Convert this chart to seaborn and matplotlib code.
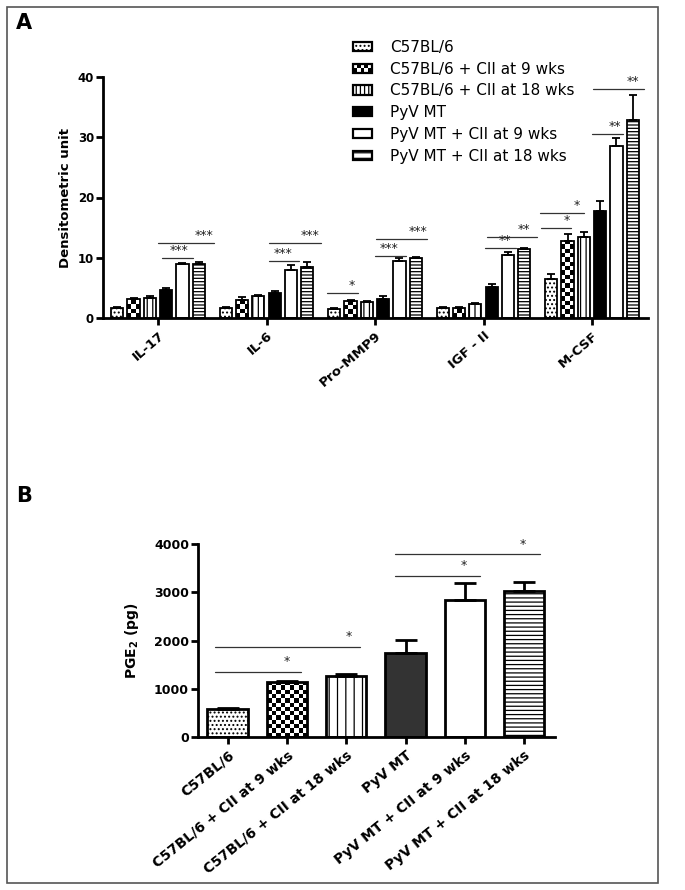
import numpy as np
import pandas as pd
import matplotlib
matplotlib.use("Agg")
import matplotlib.pyplot as plt
import seaborn as sns
from matplotlib.patches import Rectangle
from matplotlib.legend_handler import HandlerBase

# ---------------- data ----------------
groups = ["C57BL/6", "C57BL/6 + CII at 9 wks", "C57BL/6 + CII at 18 wks",
          "PyV MT", "PyV MT + CII at 9 wks", "PyV MT + CII at 18 wks"]
cytokines = ["IL-17", "IL-6", "Pro-MMP9", "IGF - II", "M-CSF"]

# values per group, ordered by cytokines
c57 = [1.6, 1.6, 1.5, 1.6, 6.5]
c57_9 = [3.1, 3.0, 2.9, 1.7, 12.8]
c57_18 = [3.4, 3.7, 2.6, 2.3, 13.5]
pyv = [4.7, 4.1, 3.1, 5.1, 17.8]
pyv_9 = [9.0, 8.0, 9.5, 10.4, 28.6]
pyv_18 = [9.0, 8.5, 9.9, 11.4, 32.8]

c57_err = [0.15, 0.15, 0.2, 0.2, 0.8]
c57_9_err = [0.2, 0.5, 0.1, 0.2, 1.1]
c57_18_err = [0.2, 0.1, 0.2, 0.2, 0.8]
pyv_err = [0.2, 0.4, 0.5, 0.5, 1.6]
pyv_9_err = [0.15, 0.8, 0.4, 0.6, 1.3]
pyv_18_err = [0.3, 0.8, 0.3, 0.3, 4.2]

# panel A significance: (category index, start offset, end offset, y, label, text offset)
sig_a = [
    (0, 0.04, 0.32, 9.9, "***", 0.19), (0, 0.00, 0.52, 12.5, "***", 0.42),
    (1, 0.02, 0.30, 9.5, "***", 0.155), (1, 0.02, 0.50, 12.5, "***", 0.40),
    (2, -0.44, -0.16, 4.1, "*", -0.21), (2, 0.00, 0.29, 10.3, "***", 0.13),
    (2, 0.01, 0.48, 13.1, "***", 0.40),
    (3, 0.01, 0.30, 11.6, "**", 0.20), (3, 0.03, 0.49, 13.4, "**", 0.37),
    (4, -0.47, -0.19, 14.9, "*", -0.23), (4, -0.48, -0.07, 17.4, "*", -0.14),
    (4, 0.00, 0.29, 30.6, "**", 0.21), (4, 0.01, 0.48, 38.0, "**", 0.38),
]

pge = [570, 1142, 1266, 1737, 2844, 3031]
pge_err = [30, 20, 40, 270, 346, 180]
# panel B significance: (x start, x end, y, label, text x)
sig_b = [(-0.22, 1.24, 1350, "*", 1.0), (-0.22, 2.23, 1869, "*", 2.04),
         (2.82, 4.26, 3336, "*", 3.98), (2.82, 5.27, 3785, "*", 4.98)]

# ---------------- style ----------------
sns.set_theme(style="white")
plt.rcParams["font.family"] = ["DejaVu Sans"]
plt.rcParams["hatch.linewidth"] = 0.9
for key in ["text.color", "axes.labelcolor", "xtick.color", "ytick.color"]:
    plt.rcParams[key] = "black"

fig = plt.figure(figsize=(6.85, 8.90), dpi=100)

# outer frame
fig.patches.append(Rectangle((7 / 685, 1 - 883 / 890), 651 / 685, 876 / 890,
                             transform=fig.transFigure, fill=False,
                             edgecolor="#555555", lw=1.2))
fig.text(16 / 685, 1 - 13 / 890, "A", fontsize=15, fontweight="bold", va="top")
fig.text(16 / 685, 1 - 486 / 890, "B", fontsize=15, fontweight="bold", va="top")

CELL_PX = 4.3


def checker_fill(ax, bar):
    x0, y0 = bar.get_x(), bar.get_y()
    w, h = bar.get_width(), bar.get_height()
    p0 = ax.transData.transform((x0, y0))
    p1 = ax.transData.transform((x0 + w, y0 + h))
    ncol = max(1, int(round(abs(p1[0] - p0[0]) / CELL_PX)))
    nrow = max(1, int(round(abs(p1[1] - p0[1]) / CELL_PX)))
    img = (np.add.outer(np.arange(nrow), np.arange(ncol)) % 2).astype(float)
    im = ax.imshow(img, extent=[x0, x0 + w, y0, y0 + h], cmap="gray",
                   interpolation="nearest", aspect="auto", origin="lower",
                   zorder=bar.get_zorder() - 0.05)
    im.set_clip_path(bar)
    bar.set_facecolor("none")


class CheckerHandler(HandlerBase):
    def create_artists(self, legend, orig_handle, xdescent, ydescent, width,
                       height, fontsize, trans):
        arts = []
        ncol, nrow = 5, 2
        cw, ch = width / ncol, height / nrow
        for r in range(nrow):
            for c in range(ncol):
                if (r + c) % 2 == 0:
                    arts.append(Rectangle((-xdescent + c * cw, -ydescent + r * ch), cw, ch,
                                          facecolor="black", edgecolor="none",
                                          transform=trans))
        arts.append(Rectangle((-xdescent, -ydescent), width, height, facecolor="none",
                              edgecolor="black", lw=1.6, transform=trans))
        return arts


faces = ["white", "white", "white", "black", "white", "white"]

# ---------------- panel A ----------------
axA = fig.add_axes([103 / 685, 1 - 318 / 890, 545 / 685, 241 / 890])
vals = [c57, c57_9, c57_18, pyv, pyv_9, pyv_18]
errs = [c57_err, c57_9_err, c57_18_err, pyv_err, pyv_9_err, pyv_18_err]
dfA = pd.DataFrame({
    "cytokine": np.tile(cytokines, len(groups)),
    "group": np.repeat(groups, len(cytokines)),
    "value": np.concatenate(vals),
})
sns.barplot(data=dfA, x="cytokine", y="value", hue="group", hue_order=groups,
            order=cytokines, errorbar=None, width=0.90, gap=0.25,
            edgecolor="black", linewidth=1.3, ax=axA, legend=False)
XLIM_A = (-0.507, 4.516)
axA.set_xlim(*XLIM_A)
axA.set_ylim(0, 40)
hatchesA = ["....", None, "|||", None, None, "-----"]
bar_conts = list(axA.containers)
for gi, cont in enumerate(bar_conts):
    for bi, bar in enumerate(cont):
        bar.set_facecolor(faces[gi])
        bar.set_edgecolor("black")
        if hatchesA[gi]:
            bar.set_hatch(hatchesA[gi])
        if gi == 1:
            checker_fill(axA, bar)
        xc = bar.get_x() + bar.get_width() / 2
        axA.errorbar([xc], [bar.get_height()], yerr=[[0], [errs[gi][bi]]],
                     fmt="none", ecolor="black", elinewidth=1.3, capsize=3,
                     capthick=1.3, zorder=1)
axA.set_xlim(*XLIM_A)
axA.set_ylim(0, 40)
for ci, s0, s1, y, lab, tx in sig_a:
    axA.plot([ci + s0, ci + s1], [y, y], color="#333333", lw=0.9, clip_on=False)
    axA.text(ci + tx, y + 0.15, lab, ha="center", va="bottom", fontsize=9,
             color="#222222")

sns.despine(ax=axA)
for sp in ["left", "bottom"]:
    axA.spines[sp].set_linewidth(2)
    axA.spines[sp].set_color("black")
axA.set_yticks([0, 10, 20, 30, 40])
axA.tick_params(axis="both", which="major", direction="out", length=5, width=2,
                color="black", left=True, bottom=True)
axA.tick_params(axis="y", labelsize=8.5, pad=1.5)
axA.tick_params(axis="x", labelsize=9.5, pad=3)
for t in axA.get_yticklabels():
    t.set_fontweight("bold")
for t in axA.get_xticklabels():
    t.set_fontweight("bold")
    t.set_rotation(41)
    t.set_ha("right")
    t.set_rotation_mode("anchor")
axA.set_xlabel("")
axA.set_ylabel("Densitometric unit", fontsize=9.5, fontweight="bold", labelpad=4)

# legend
hatch_leg = ["....", None, "||||", None, None, "---"]
handles = []
for gi in range(len(groups)):
    if gi == 1:
        handles.append(Rectangle((0, 0), 1, 1, facecolor="white", edgecolor="black"))
    else:
        handles.append(Rectangle((0, 0), 1, 1, facecolor=faces[gi], edgecolor="black",
                                 lw=1.6, hatch=hatch_leg[gi]))
fig.legend(handles, groups, loc="upper left",
           bbox_to_anchor=(353 / 685, 1 - 40 / 890), frameon=False,
           fontsize=11, handlelength=1.25, handleheight=0.55, handletextpad=1.15,
           labelspacing=0.44, borderpad=0, borderaxespad=0, labelcolor="black",
           handler_map={handles[1]: CheckerHandler()})

# ---------------- panel B ----------------
axB = fig.add_axes([198 / 685, 1 - 737 / 890, 357 / 685, 193 / 890])
dfB = pd.DataFrame({"group": groups, "pge": pge})
sns.barplot(data=dfB, x="group", y="pge", order=groups, errorbar=None,
            width=0.68, edgecolor="black", linewidth=2, color="white", ax=axB)
XLIM_B = (-0.5, 5.52)
axB.set_xlim(*XLIM_B)
axB.set_ylim(0, 4000)
hatchesB = ["....", None, "||", None, None, "----"]
facesB = ["white", "white", "white", "#333333", "white", "white"]
bars = list(axB.containers[0])
for bi, bar in enumerate(bars):
    bar.set_facecolor(facesB[bi])
    bar.set_edgecolor("black")
    if hatchesB[bi]:
        bar.set_hatch(hatchesB[bi])
    if bi == 1:
        checker_fill(axB, bar)
    xc = bar.get_x() + bar.get_width() / 2
    axB.errorbar([xc], [bar.get_height()], yerr=[[0], [pge_err[bi]]], fmt="none",
                 ecolor="black", elinewidth=2, capsize=8, capthick=2, zorder=1)
axB.set_xlim(*XLIM_B)
axB.set_ylim(0, 4000)
for s0, s1, y, lab, tx in sig_b:
    axB.plot([s0, s1], [y, y], color="#333333", lw=0.9, clip_on=False)
    axB.text(tx, y + 80, lab, ha="center", va="bottom", fontsize=9, color="#222222")

sns.despine(ax=axB)
for sp in ["left", "bottom"]:
    axB.spines[sp].set_linewidth(2)
    axB.spines[sp].set_color("black")
axB.set_yticks([0, 1000, 2000, 3000, 4000])
axB.tick_params(axis="both", which="major", direction="out", length=5, width=2,
                color="black", left=True, bottom=True)
axB.tick_params(axis="y", labelsize=9, pad=1.5)
axB.tick_params(axis="x", labelsize=10, pad=3)
for t in axB.get_yticklabels():
    t.set_fontweight("bold")
for t in axB.get_xticklabels():
    t.set_fontweight("bold")
    t.set_rotation(39)
    t.set_ha("right")
    t.set_rotation_mode("anchor")
axB.set_xlabel("")
axB.set_ylabel("PGE$_\\mathbf{2}$ (pg)", fontsize=10, fontweight="bold", labelpad=9)

fig.savefig("out.png", dpi=100)
